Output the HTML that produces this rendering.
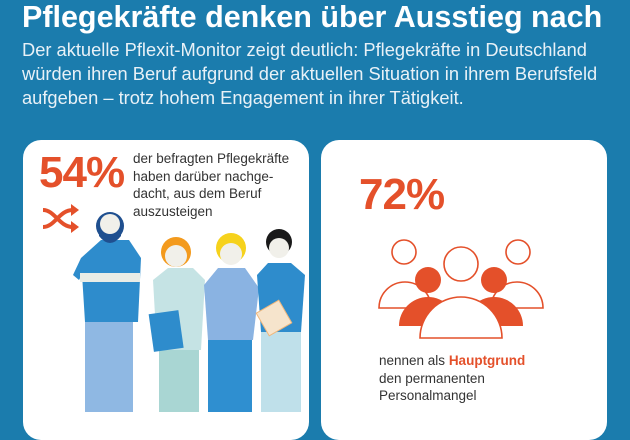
<!DOCTYPE html>
<html><head><meta charset="utf-8"><style>
body{margin:0;width:630px;height:412px;overflow:hidden;background:#1b7cad;font-family:"Liberation Sans",sans-serif;position:relative}
.t{position:absolute;left:22px;top:0px;color:#fff;font-weight:bold;font-size:30.5px;margin:0;white-space:nowrap}
.s{position:absolute;left:22px;top:38px;color:#e8f1f7;font-size:18.3px;line-height:24px;width:610px;white-space:nowrap}
.card{position:absolute;top:140px;background:#fff;border-radius:18px;height:300px}
.big{position:absolute;color:#e4502a;font-weight:bold;font-size:44px;letter-spacing:-1px}
.txt{position:absolute;color:#333;font-size:13.5px;line-height:17.5px}
</style></head><body>
<h1 class="t">Pflegekräfte denken über Ausstieg nach</h1>
<div class="s">Der aktuelle Pflexit-Monitor zeigt deutlich: Pflegekräfte in Deutschland<br>würden ihren Beruf aufgrund der aktuellen Situation in ihrem Berufsfeld<br>aufgeben – trotz hohem Engagement in ihrer Tätigkeit.</div>

<div class="card" style="left:23px;width:286px">
 <div class="big" style="left:16px;top:8px">54%</div>
 <div class="txt" style="left:110px;top:10px">der befragten Pflegekräfte<br>haben darüber nachge-<br>dacht, aus dem Beruf<br>auszusteigen</div>
 <svg style="position:absolute;left:0;top:0" width="286" height="272">
  <g fill="none" stroke="#e4502a" stroke-width="4"><path d="M20 70 C32 70,36 87,50 87 M20 87 C32 87,36 70,50 70"/></g>
  <path d="M48 64 l8 6 -8 6z M48 81 l8 6 -8 6z" fill="#e4502a"/>
  <rect x="62" y="175" width="48" height="105" fill="#8fb8e3"/>
  <path d="M58 118 L78 100 L106 100 L118 118 L115 182 L62 182Z" fill="#2e8ccc"/>
  <path d="M58 118 L50 135 L56 140 L64 125Z" fill="#2e8ccc"/>
  <rect x="57" y="133" width="60" height="9" fill="#e9ece6"/>
  <circle cx="87" cy="86" r="14" fill="#1f4f8f"/><circle cx="87" cy="84" r="10" fill="#f1f0ea"/>
  <path d="M76 86 Q87 108 98 86 L98 96 Q87 110 76 96Z" fill="#1f4f8f"/>
  <rect x="136" y="200" width="40" height="80" fill="#a9d6d3"/>
  <path d="M130 140 L145 128 L170 128 L182 140 L178 210 L134 210Z" fill="#c5e3e4"/>
  <rect x="128" y="172" width="30" height="38" fill="#2e8ccc" transform="rotate(-8 143 190)"/>
  <circle cx="153" cy="112" r="15" fill="#f39a1d"/><circle cx="153" cy="116" r="11" fill="#f1f0ea"/>
  <rect x="185" y="195" width="44" height="85" fill="#2f8fd0"/>
  <path d="M181 145 L195 128 L222 128 L236 148 L230 200 L185 200Z" fill="#8ab3e2"/>
  <circle cx="208" cy="108" r="15" fill="#f6d21c"/><circle cx="208" cy="114" r="11" fill="#f1f0ea"/>
  <rect x="238" y="190" width="40" height="90" fill="#bfe0ea"/>
  <path d="M234 135 L245 123 L268 123 L282 135 L278 192 L238 192Z" fill="#2e8ccc"/>
  <rect x="238" y="165" width="26" height="26" fill="#f6e4cc" stroke="#f2b77a" transform="rotate(-30 251 178)"/>
  <circle cx="256" cy="102" r="13" fill="#1a1a1a"/><circle cx="256" cy="108" r="10" fill="#f1f0ea"/>
 </svg>
</div>

<div class="card" style="left:321px;width:286px">
 <div class="big" style="left:38px;top:30px">72%</div>
 <svg style="position:absolute;left:55px;top:98px" width="170" height="105">
  <g stroke="#e4502a" stroke-width="1.6" fill="#fff">
   <circle cx="28" cy="14" r="12"/><path d="M3 70 A26 26 0 0 1 55 70 Z"/>
   <circle cx="142" cy="14" r="12"/><path d="M115 70 A26 26 0 0 1 167 70 Z"/>
  </g>
  <g fill="#e4502a"><circle cx="52" cy="42" r="13"/><path d="M23 88 A29 29 0 0 1 81 88 Z"/>
   <circle cx="118" cy="42" r="13"/><path d="M89 88 A29 29 0 0 1 147 88 Z"/></g>
  <g stroke="#e4502a" stroke-width="1.6" fill="#fff"><circle cx="85" cy="26" r="17"/><path d="M44 100 A41 41 0 0 1 126 100 Z"/></g>
 </svg>
 <div class="txt" style="left:58px;top:212px">nennen als <b style="color:#e4502a">Hauptgrund</b><br>den permanenten<br>Personalmangel</div>
</div>
</body></html>
